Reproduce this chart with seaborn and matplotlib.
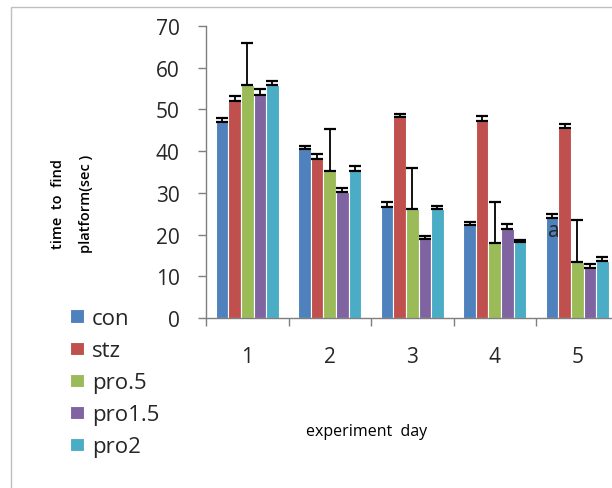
import pandas as pd
import seaborn as sns
import matplotlib.pyplot as plt
import numpy as np
from matplotlib.patches import Rectangle

# data
days = ['1', '2', '3', '4', '5']
groups = ['con', 'stz', 'pro.5', 'pro1.5', 'pro2']
con = [46.9, 40.5, 26.5, 22.3, 23.9]
stz = [52.1, 38.1, 48.1, 47.3, 45.5]
pro05 = [55.9, 35.2, 26.1, 17.9, 13.5]
pro15 = [53.5, 30.1, 18.9, 21.3, 11.9]
pro2 = [55.9, 35.2, 26.1, 18.1, 13.6]
con_err = [1.1, 0.8, 1.4, 0.8, 1.0]
stz_err = [1.2, 1.3, 0.8, 1.2, 1.0]
pro05_err = [10.0, 10.0, 9.9, 10.0, 10.1]
pro15_err = [1.3, 1.1, 0.8, 1.2, 1.0]
pro2_err = [0.9, 1.3, 0.8, 0.7, 1.0]

colors = ['#4F81BD', '#C0504D', '#9BBB59', '#8064A2', '#4BACC6']

means = [con, stz, pro05, pro15, pro2]
errs = [con_err, stz_err, pro05_err, pro15_err, pro2_err]

df = pd.DataFrame({
    'day': np.tile(days, len(groups)),
    'group': np.repeat(groups, len(days)),
    'time': np.concatenate(means),
})

sns.set_style('white')
plt.rcParams['font.family'] = ['Open Sans', 'DejaVu Sans']

fig = plt.figure(figsize=(6.12, 4.89), dpi=100)
ax = fig.add_axes([206 / 612, 1 - 319 / 489, 412.5 / 612, 292 / 489])

sns.barplot(data=df, x='day', y='time', hue='group', order=days, hue_order=groups,
            palette=colors, saturation=1, width=0.76, edgecolor='white', linewidth=0.8,
            errorbar=None, ax=ax, legend=True)

# one-sided error bars on top of each bar
for cont, e in zip(ax.containers, errs):
    xs = [p.get_x() + p.get_width() / 2 for p in cont.patches]
    hs = [p.get_height() for p in cont.patches]
    ax.errorbar(xs, hs, yerr=[np.zeros(len(e)), e], fmt='none', ecolor='black',
                elinewidth=1.3, capsize=4.3, capthick=1.6, zorder=5)

ax.set_xlim(-0.5, 4.5)
ax.set_ylim(0, 70)
ax.set_yticks(range(0, 71, 10))
ax.set_xlabel('')
ax.set_ylabel('')

for s in ['top', 'right']:
    ax.spines[s].set_visible(False)
for s in ['left', 'bottom']:
    ax.spines[s].set_color('#7f7f7f')
    ax.spines[s].set_linewidth(1.0)

ax.tick_params(axis='y', which='major', length=6, width=1, color='#7f7f7f',
               direction='out', left=True, labelsize=15, labelcolor='#262626', pad=13)
ax.tick_params(axis='x', which='major', length=0, labelsize=15, labelcolor='#262626', pad=20)
ax.set_xticks(np.arange(-0.5, 5, 1), minor=True)
ax.tick_params(axis='x', which='minor', length=6, width=1, color='#7f7f7f',
               direction='out', bottom=True)

ax.text(3.71, 20.9, 'a', fontsize=15, color='#262626', ha='center', va='center', zorder=6)

# legend on the left
handles, labels = ax.get_legend_handles_labels()
ax.legend_.remove()
fig.legend(handles, labels, loc='upper left', bbox_to_anchor=(70 / 612, 1 - 309 / 489),
           frameon=False, fontsize=16, handlelength=0.63, handleheight=0.55,
           handletextpad=0.36, labelspacing=0.5, borderaxespad=0, borderpad=0,
           labelcolor='#262626')

# axis titles
fig.text(58 / 612, 1 - 204 / 489, 'time  to  find', rotation=90, fontsize=10.5,
         ha='center', va='center', color='black', fontweight='semibold')
fig.text(86 / 612, 1 - 204 / 489, 'platform(sec )', rotation=90, fontsize=10.5,
         ha='center', va='center', color='black', fontweight='semibold')
fig.text(367 / 612, 1 - 432 / 489, 'experiment  day', fontsize=11.5,
         ha='center', va='center', color='black')

# outer chart frame
fig.patches.append(Rectangle((11 / 612, -0.1), 1.2, 1.1 - 8 / 489, transform=fig.transFigure,
                             fill=False, edgecolor='#bfbfbf', linewidth=1.0))

fig.savefig('out.png', dpi=100)
